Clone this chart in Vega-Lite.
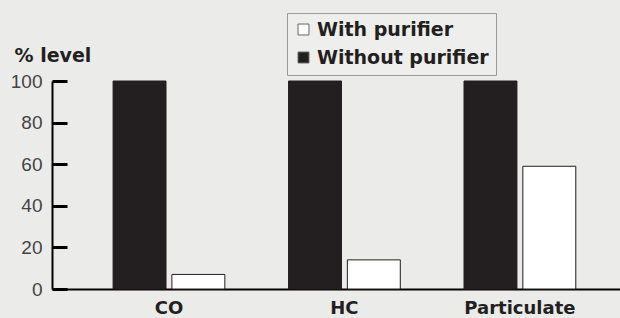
{
  "$schema": "https://vega.github.io/schema/vega-lite/v6.json",
  "width": 568,
  "height": 208,
  "autosize": {"type": "none"},
  "padding": {"left": 52, "top": 81, "right": 0, "bottom": 29},
  "background": "#ebebea",
  "config": {
    "view": {"stroke": null},
    "font": "Liberation Sans"
  },
  "data": {
    "values": [
      {"pollutant": "CO", "condition": "Without purifier", "level": 100},
      {"pollutant": "CO", "condition": "With purifier", "level": 7},
      {"pollutant": "HC", "condition": "Without purifier", "level": 100},
      {"pollutant": "HC", "condition": "With purifier", "level": 14},
      {"pollutant": "Particulate", "condition": "Without purifier", "level": 100},
      {"pollutant": "Particulate", "condition": "With purifier", "level": 59}
    ]
  },
  "resolve": {"axis": {"y": "independent"}},
  "layer": [
    {
      "mark": {"type": "bar", "stroke": "#231f20", "strokeWidth": 1},
      "encoding": {
        "x": {
          "field": "pollutant",
          "type": "nominal",
          "sort": ["CO", "HC", "Particulate"],
          "scale": {"paddingInner": 0.363, "paddingOuter": 0.3, "align": 0.58},
          "axis": {
            "title": null,
            "labelAngle": 0,
            "labelFont": "DejaVu Sans",
            "labelFontSize": 18,
            "labelFontWeight": "bold",
            "labelColor": "#231f20",
            "labelPadding": 10,
            "ticks": false,
            "domainColor": "#000000",
            "domainWidth": 2
          }
        },
        "xOffset": {
          "field": "condition",
          "type": "nominal",
          "sort": ["Without purifier", "With purifier"],
          "scale": {"paddingInner": 0.1, "paddingOuter": 0}
        },
        "y": {
          "field": "level",
          "type": "quantitative",
          "scale": {"domain": [0, 100], "nice": false},
          "axis": {
            "orient": "left",
            "values": [0, 20, 40, 60, 80, 100],
            "grid": false,
            "title": "% level",
            "titleAngle": 0,
            "titleAlign": "left",
            "titleBaseline": "alphabetic",
            "titleX": -38,
            "titleY": -20,
            "titleFont": "DejaVu Sans",
            "titleFontSize": 19,
            "titleFontWeight": "bold",
            "titleColor": "#231f20",
            "labelFont": "Liberation Sans",
            "labelFontSize": 19,
            "labelColor": "#444444",
            "labelPadding": 25,
            "ticks": true,
            "tickSize": -15,
            "tickColor": "black",
            "tickWidth": 3,
            "domainColor": "#000000",
            "domainWidth": 2
          }
        },
        "fill": {
          "field": "condition",
          "type": "nominal",
          "sort": ["With purifier", "Without purifier"],
          "scale": {"domain": ["With purifier", "Without purifier"], "range": ["#ffffff", "#231f20"]},
          "legend": {
            "title": null,
            "orient": "none",
            "legendX": 235,
            "legendY": -68,
            "direction": "vertical",
            "padding": 7,
            "strokeColor": "#999999",
            "fillColor": "#eeeeed",
            "symbolType": "square",
            "symbolSize": 120,
            "symbolStrokeColor": "#666666",
            "symbolStrokeWidth": 1,
            "labelFont": "DejaVu Sans",
            "labelFontSize": 19,
            "labelFontWeight": "bold",
            "labelColor": "#231f20",
            "labelOffset": 4,
            "labelLimit": 400,
            "rowPadding": 8
          }
        }
      }
    },
    {
      "mark": {"type": "tick", "opacity": 0},
      "encoding": {
        "y": {
          "field": "level",
          "type": "quantitative",
          "axis": {
            "orient": "right",
            "values": [0, 20, 40, 60, 80, 100],
            "grid": false,
            "title": null,
            "labels": false,
            "domain": false,
            "ticks": false
          }
        }
      }
    }
  ]
}
